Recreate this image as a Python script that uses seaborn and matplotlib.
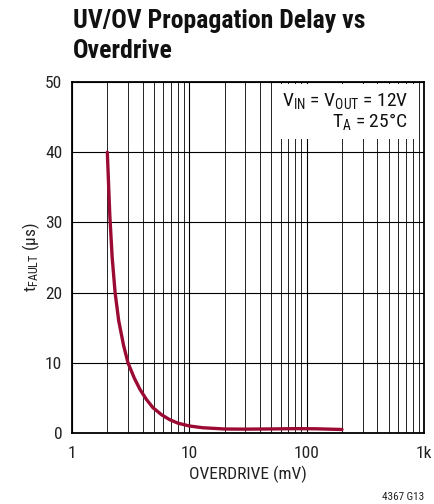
"""
UV/OV propagation delay vs overdrive
"""

import numpy as np
import pandas as pd
import matplotlib
matplotlib.use("Agg")
import matplotlib.pyplot as plt
import matplotlib.ticker as mticker
import seaborn as sns

# valeurs
overdrive_mv = [2.0, 2.1, 2.2, 2.33, 2.5, 2.75, 3.0, 3.4, 3.8, 4.3, 4.9, 5.8,
                6.8, 8.0, 10.0, 13.0, 20.0, 30.0, 50.0, 80.0, 120.0, 200.0]
t_fault_us = [40.0, 31.0, 25.0, 20.0, 16.0, 12.5, 10.0, 7.8, 6.2, 4.8, 3.6, 2.6,
              1.9, 1.4, 1.0, 0.75, 0.57, 0.55, 0.58, 0.62, 0.6, 0.5]

y_ticks = [0, 10, 20, 30, 40, 50]
x_ticks = [1, 10, 100, 1000]
x_tick_labels = ["1", "10", "100", "1k"]

sns.set_theme(style="white")
plt.rcParams['font.family'] = ['Roboto Condensed', 'Liberation Sans', 'DejaVu Sans']
plt.rcParams['mathtext.default'] = 'regular'

df = pd.DataFrame({"overdrive": overdrive_mv, "t_fault": t_fault_us})

fig = plt.figure(figsize=(4.34, 5.04), dpi=100)
ax = fig.add_axes([72 / 434, 1 - 433 / 504, 352 / 434, 351 / 504])

sns.lineplot(data=df, x="overdrive", y="t_fault", ax=ax,
             color="#9b0a33", linewidth=2.4, zorder=5)

ax.set_xscale("log")
ax.set_xlim(1, 1000)
ax.set_ylim(0, 50)

# grille
ax.xaxis.set_major_locator(mticker.FixedLocator(x_ticks))
ax.xaxis.set_minor_locator(mticker.LogLocator(base=10, subs=np.arange(2, 10)))
ax.xaxis.set_minor_formatter(mticker.NullFormatter())
ax.set_xticks(x_ticks)
ax.set_xticklabels(x_tick_labels)
ax.set_yticks(y_ticks)
ax.grid(True, which="major", color="black", linewidth=0.8)
ax.grid(True, which="minor", axis="x", color="#222222", linewidth=0.7)
ax.tick_params(which="both", length=0, labelsize=12.5, colors="#222222")
ax.tick_params(axis="x", pad=9)
ax.tick_params(axis="y", pad=7)

for s in ax.spines.values():
    s.set_visible(True)
    s.set_color("black")
    s.set_linewidth(1.3)

ax.set_xlabel("OVERDRIVE (mV)", fontsize=12.5, color="#222222", labelpad=4)
ax.set_ylabel(r"t$_{FAULT}$ (µs)", fontsize=12.5, color="#222222", labelpad=2)

# encadré conditions
ax.text(0.955, 0.975, "V$_{IN}$ = V$_{OUT}$ = 12V\nT$_A$ = 25°C",
        transform=ax.transAxes, ha="right", va="top", fontsize=14,
        color="#111111", linespacing=1.0, zorder=6,
        bbox=dict(facecolor="white", edgecolor="none", pad=5))

fig.text(73 / 434, 1 - 9 / 504, "UV/OV Propagation Delay vs\nOverdrive",
         ha="left", va="top", fontsize=18.5, fontweight="bold",
         color="#111111", linespacing=1.3)
fig.text(424 / 434, 1 - 497 / 504, "4367 G13", ha="right", va="center",
         fontsize=8, color="#222222")

fig.savefig("out.png", dpi=100)
plt.close(fig)
